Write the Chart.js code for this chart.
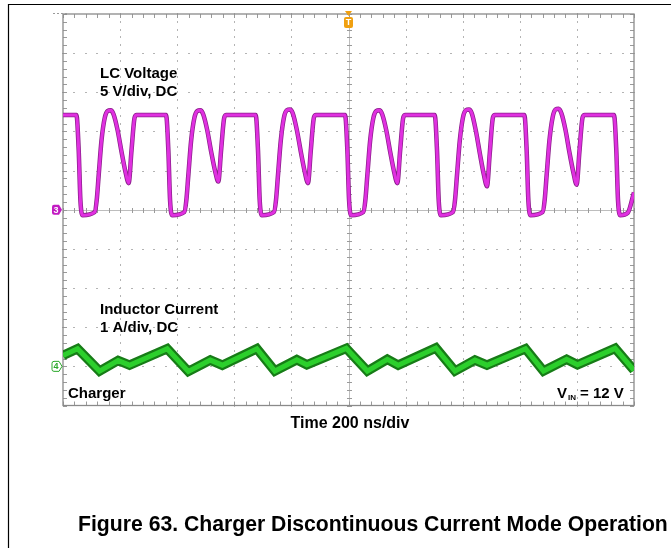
<!DOCTYPE html>
<html>
<head>
<meta charset="utf-8">
<script src="https://cdn.jsdelivr.net/npm/chart.js@4.4.0/dist/chart.umd.min.js"></script>
<style>
  html, body { margin: 0; padding: 0; background: #fff; }
  #scope { display: block; }
</style>
</head>
<body>
<canvas id="scope" width="671" height="548"></canvas>
<script>
// CH3: LC (switch node) voltage, time in ns from trigger, volts
const voltTime = [
  -1000,
  -953, -945, -939, -931, -889, -882, -875, -865, -854, -844, -833, -823, -809, -795, -781, -770, -760, -749, -742,
  -639, -631, -625, -617, -575, -568, -561, -551, -540, -530, -519, -509, -495, -481, -467, -456, -446, -435, -428,
  -325, -317, -311, -303, -261, -254, -247, -237, -226, -216, -205, -195, -181, -167, -153, -142, -132, -121, -114,
  -12, -4, 2, 10, 52, 59, 66, 76, 87, 97, 108, 118, 132, 146, 160, 171, 181, 192, 199,
  302, 310, 316, 324, 366, 373, 380, 390, 401, 411, 422, 432, 446, 460, 474, 485, 495, 506, 513,
  616, 624, 630, 638, 680, 687, 694, 704, 715, 725, 736, 746, 760, 774, 788, 799, 809, 820, 827,
  930, 938, 944, 952, 978, 1000
];
const voltValue = [
  12.1,
  12.1, 7.6, 1.2, -0.7, -0.3, 1.2, 4.4, 8.9, 11.7, 12.6, 12.7, 12.2, 10.2, 7.4, 4.8, 3.4, 7.6, 11.8, 12.1,
  12.1, 7.6, 1.2, -0.7, -0.3, 1.2, 4.4, 8.9, 11.7, 12.6, 12.7, 12.2, 10.2, 7.4, 4.9, 3.6, 7.7, 11.8, 12.1,
  12.1, 7.6, 1.2, -0.7, -0.3, 1.2, 4.4, 8.9, 11.8, 12.7, 12.8, 12.3, 10.2, 7.4, 4.8, 3.4, 7.6, 11.8, 12.1,
  12.1, 7.6, 1.2, -0.7, -0.3, 1.2, 4.4, 8.9, 11.7, 12.6, 12.7, 12.2, 10.2, 7.4, 4.8, 3.4, 7.6, 11.8, 12.1,
  12.1, 7.6, 1.2, -0.7, -0.3, 1.2, 4.4, 8.9, 11.8, 12.7, 12.8, 12.3, 10.1, 7.2, 4.5, 3.0, 7.3, 11.8, 12.1,
  12.1, 7.6, 1.2, -0.7, -0.3, 1.2, 4.4, 8.9, 11.8, 12.8, 12.9, 12.3, 10.2, 7.3, 4.7, 3.2, 7.5, 11.8, 12.1,
  12.1, 7.6, 1.2, -0.7, -0.4, 2.2
];

// CH4: inductor current, time in ns, amps
const currTime = [
  -1000, -949, -872, -807, -767,
  -635, -561, -484, -442,
  -321, -258, -181, -146,
  -8, 66, 136, 174,
  306, 373, 443, 485,
  620, 683, 764, 802,
  934, 1000
];
const currValue = [
  0.28, 0.45, -0.12, 0.15, 0.03,
  0.45, -0.13, 0.16, 0.03,
  0.45, -0.12, 0.17, 0.04,
  0.46, -0.12, 0.18, 0.03,
  0.47, -0.12, 0.16, 0.03,
  0.45, -0.12, 0.18, 0.04,
  0.46, -0.10
];

// screen settings
const timePerDiv = 200;   // ns
const voltPerDiv = 5;     // V
const ampPerDiv = 1;      // A
const ch4Offset = -4;     // divisions

const voltPoints = voltTime.map((t, i) => ({ x: t, y: voltValue[i] }));
const currPoints = currTime.map((t, i) => ({ x: t, y: currValue[i] }));

// scope graticule: dotted division lines, centre cross and border with minor ticks
const graticule = {
  id: 'graticule',
  beforeDatasetsDraw(chart) {
    const { ctx, chartArea: a, scales: { x, y } } = chart;
    const minorT = timePerDiv / 5, minorV = voltPerDiv / 5;
    ctx.save();
    ctx.fillStyle = '#b4b4b4';
    for (let t = -4 * timePerDiv; t <= 4 * timePerDiv; t += timePerDiv) {
      if (t === 0) continue;
      const px = Math.round(x.getPixelForValue(t));
      for (let v = -25; v <= 25; v += minorV) {
        ctx.fillRect(px, Math.round(y.getPixelForValue(v)) - 1, 1, 2);
      }
    }
    for (let v = -4 * voltPerDiv; v <= 4 * voltPerDiv; v += voltPerDiv) {
      if (v === 0) continue;
      const py = Math.round(y.getPixelForValue(v));
      for (let t = -1000; t <= 1000; t += minorT) {
        ctx.fillRect(Math.round(x.getPixelForValue(t)) - 1, py, 2, 1);
      }
    }
    // centre cross
    const cx = Math.round(x.getPixelForValue(0)) + 0.5;
    const cy = Math.round(y.getPixelForValue(0)) + 0.5;
    ctx.strokeStyle = '#bdbdbd';
    ctx.lineWidth = 1;
    ctx.beginPath();
    ctx.moveTo(a.left, cy); ctx.lineTo(a.right, cy);
    ctx.moveTo(cx, a.top); ctx.lineTo(cx, a.bottom);
    ctx.stroke();
    ctx.strokeStyle = '#9a9a9a';
    ctx.beginPath();
    for (let t = -1000; t <= 1000; t += minorT) {
      const px = Math.round(x.getPixelForValue(t)) + 0.5;
      ctx.moveTo(px, cy - 2.5); ctx.lineTo(px, cy + 2.5);
      ctx.moveTo(px, a.top); ctx.lineTo(px, a.top + 4);
      ctx.moveTo(px, a.bottom); ctx.lineTo(px, a.bottom - 4);
    }
    for (let v = -25; v <= 25; v += minorV) {
      const py = Math.round(y.getPixelForValue(v)) + 0.5;
      ctx.moveTo(cx - 2.5, py); ctx.lineTo(cx + 2.5, py);
      ctx.moveTo(a.left, py); ctx.lineTo(a.left + 4, py);
      ctx.moveTo(a.right, py); ctx.lineTo(a.right - 4, py);
    }
    ctx.stroke();
    ctx.strokeStyle = '#8a8a8a';
    ctx.lineWidth = 1.3;
    ctx.strokeRect(a.left, a.top, a.right - a.left, a.bottom - a.top);
    // horizontal position dashes at top left
    ctx.fillStyle = '#9a9a9a';
    for (let k = 0; k < 4; k++) ctx.fillRect(a.left - 10 + k * 4, a.top - 1, 2, 1);
    ctx.restore();
  }
};

function tag(ctx, xr, yc, label, fill, stroke, textColor) {
  const w = 10, h = 10;
  ctx.beginPath();
  ctx.moveTo(xr - w, yc - h / 2 + 2);
  ctx.quadraticCurveTo(xr - w, yc - h / 2, xr - w + 2, yc - h / 2);
  ctx.lineTo(xr - 3, yc - h / 2);
  ctx.lineTo(xr, yc);
  ctx.lineTo(xr - 3, yc + h / 2);
  ctx.lineTo(xr - w + 2, yc + h / 2);
  ctx.quadraticCurveTo(xr - w, yc + h / 2, xr - w, yc + h / 2 - 2);
  ctx.closePath();
  ctx.fillStyle = fill;
  ctx.fill();
  if (stroke) { ctx.strokeStyle = stroke; ctx.lineWidth = 1; ctx.stroke(); }
  ctx.fillStyle = textColor;
  ctx.font = 'bold 9px "Liberation Sans", Arial, sans-serif';
  ctx.textAlign = 'center';
  ctx.textBaseline = 'middle';
  ctx.fillText(label, xr - w / 2 - 1, yc + 0.5);
}

const markers = {
  id: 'markers',
  afterDatasetsDraw(chart) {
    const { ctx, chartArea: a, scales: { x, y, y1 } } = chart;
    ctx.save();
    tag(ctx, a.left - 1, y.getPixelForValue(0), '3', '#c21bc2', null, '#fff');
    tag(ctx, a.left - 1, y1.getPixelForValue(0), '4', '#fff', '#2aa82a', '#2aa82a');
    // trigger position
    const tx = x.getPixelForValue(0);
    ctx.fillStyle = '#f0a010';
    ctx.beginPath();
    ctx.moveTo(tx - 3.5, a.top - 3); ctx.lineTo(tx + 3.5, a.top - 3); ctx.lineTo(tx, a.top + 2);
    ctx.closePath(); ctx.fill();
    ctx.beginPath();
    ctx.roundRect(tx - 4.5, a.top + 3, 9, 11, 2);
    ctx.fill();
    ctx.fillStyle = '#fff';
    ctx.font = 'bold 9px "Liberation Sans", Arial, sans-serif';
    ctx.textAlign = 'center';
    ctx.textBaseline = 'middle';
    ctx.fillText('T', tx, a.top + 9);
    ctx.restore();
  }
};

const labels = {
  id: 'labels',
  afterDraw(chart) {
    const { ctx, width, height } = chart;
    ctx.save();
    // page frame
    ctx.strokeStyle = '#000';
    ctx.lineWidth = 1.2;
    ctx.beginPath();
    ctx.moveTo(width, 4.5); ctx.lineTo(8.5, 4.5); ctx.lineTo(8.5, height);
    ctx.stroke();
    ctx.fillStyle = '#000';
    ctx.textBaseline = 'alphabetic';
    ctx.textAlign = 'left';
    ctx.font = 'bold 15px "Liberation Sans", Arial, sans-serif';
    ctx.fillText('LC Voltage', 100, 78);
    ctx.fillText('5 V/div, DC', 100, 96);
    ctx.fillText('Inductor Current', 100, 314);
    ctx.fillText('1 A/div, DC', 100, 332);
    ctx.fillText('Charger', 68, 398);
    ctx.fillText('V', 557, 398);
    ctx.font = 'bold 8px "Liberation Sans", Arial, sans-serif';
    ctx.fillText('IN', 568, 400);
    ctx.font = 'bold 15px "Liberation Sans", Arial, sans-serif';
    ctx.fillText('= 12 V', 580, 398);
    ctx.textAlign = 'center';
    ctx.font = 'bold 16px "Liberation Sans", Arial, sans-serif';
    ctx.fillText('Time 200 ns/div', 350, 428);
    ctx.textAlign = 'left';
    ctx.font = 'bold 21.2px "Liberation Sans", Arial, sans-serif';
    ctx.fillText('Figure 63. Charger Discontinuous Current Mode Operation', 78, 531);
    ctx.restore();
  }
};

new Chart(document.getElementById('scope').getContext('2d'), {
  type: 'line',
  data: {
    datasets: [
      { data: voltPoints, yAxisID: 'y', borderColor: '#e030e0', borderWidth: 3, order: 1,
        cubicInterpolationMode: 'monotone' },
      { data: voltPoints, yAxisID: 'y', borderColor: '#8a1f8a', borderWidth: 4.5, order: 2,
        cubicInterpolationMode: 'monotone' },
      { data: currPoints, yAxisID: 'y1', borderColor: '#2ccf2c', borderWidth: 5, order: 1, tension: 0 },
      { data: currPoints, yAxisID: 'y1', borderColor: '#177c17', borderWidth: 9.5, order: 2, tension: 0 }
    ]
  },
  options: {
    responsive: false,
    animation: false,
    devicePixelRatio: 1,
    layout: { padding: { left: 63, top: 14, right: 37, bottom: 142.5 } },
    elements: { point: { radius: 0 } },
    plugins: { legend: { display: false }, tooltip: { enabled: false } },
    scales: {
      x: { type: 'linear', min: -5 * timePerDiv, max: 5 * timePerDiv, display: false },
      y: { min: -5 * voltPerDiv, max: 5 * voltPerDiv, display: false },
      y1: { min: (-5 - ch4Offset) * ampPerDiv, max: (5 - ch4Offset) * ampPerDiv, display: false }
    }
  },
  plugins: [graticule, markers, labels]
});
</script>
</body>
</html>
